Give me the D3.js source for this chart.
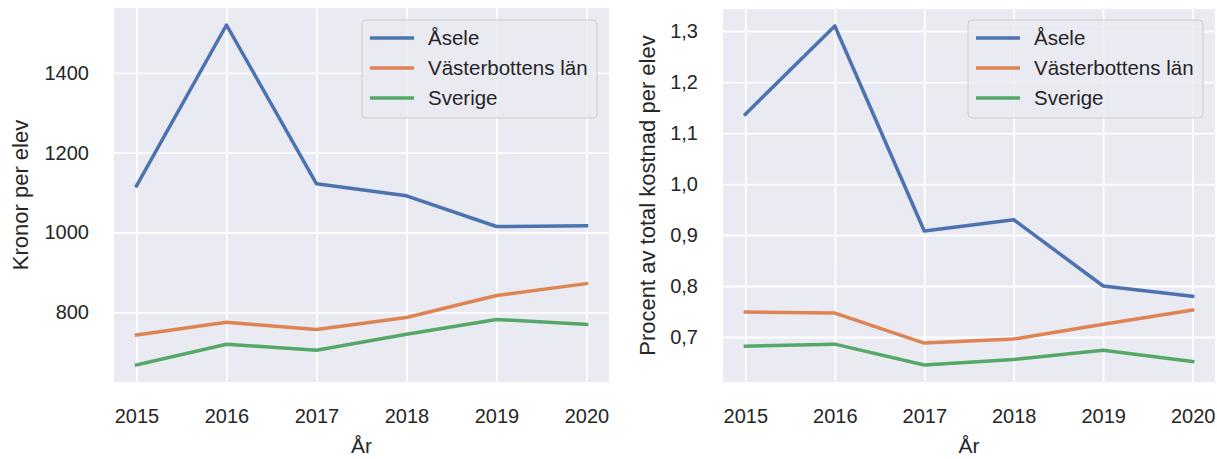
<!DOCTYPE html>
<html>
<head>
<meta charset="utf-8">
<script src="https://cdn.jsdelivr.net/npm/d3@7"></script>
<style>
  body { margin: 0; background: #ffffff; }
  svg text { font-family: "Liberation Sans", Arial, sans-serif; fill: #262626; }
</style>
</head>
<body>
<div id="viz"></div>
<script>
// two panels: kronor per elev, and procent of total kostnad per elev

const years = [2015, 2016, 2017, 2018, 2019, 2020];
const seriesNames = ["Åsele", "Västerbottens län", "Sverige"];
const seriesColors = ["#4c72b0", "#dd8452", "#55a868"];

const kronorAsele = [1117, 1520, 1122, 1092, 1015, 1017];
const kronorVasterbotten = [743, 775, 757, 787, 842, 872];
const kronorSverige = [668, 720, 705, 745, 782, 770];

const procentAsele = [1.137, 1.31, 0.908, 0.93, 0.8, 0.78];
const procentVasterbotten = [0.749, 0.747, 0.688, 0.696, 0.725, 0.753];
const procentSverige = [0.682, 0.686, 0.645, 0.656, 0.674, 0.652];

const kronorTicks = [800, 1000, 1200, 1400];
const procentTicks = [0.7, 0.8, 0.9, 1.0, 1.1, 1.2, 1.3];

const sv = d3.formatLocale({
  decimal: ",",
  thousands: "\u00a0",
  grouping: [3],
  currency: ["", " kr"],
});

const width = 1217;
const height = 459;

const svg = d3
  .select("#viz")
  .append("svg")
  .attr("width", width)
  .attr("height", height);

function drawPanel(opts) {
  const { left, right, top, bottom, series, ticks, tickFormat, yLabel, yLabelX } = opts;

  const g = svg.append("g");

  // matplotlib-like 5% margins on both axes
  const xScale = d3
    .scaleLinear()
    .domain([years[0] - 0.25, years[years.length - 1] + 0.25])
    .range([left, right]);

  const all = series.flat();
  const lo = d3.min(all);
  const hi = d3.max(all);
  const pad = (hi - lo) * 0.05;
  const yScale = d3
    .scaleLinear()
    .domain([lo - pad, hi + pad])
    .range([bottom, top]);

  g.append("rect")
    .attr("x", left)
    .attr("y", top)
    .attr("width", right - left)
    .attr("height", bottom - top)
    .attr("fill", "#eaeaf2");

  // grid + tick labels
  g.append("g")
    .attr("transform", `translate(0,${bottom})`)
    .call(d3.axisBottom(xScale).tickValues(years).tickSize(-(bottom - top)).tickFormat(d3.format("d")).tickPadding(27))
    .call((a) => {
      a.select(".domain").remove();
      a.selectAll(".tick line").attr("stroke", "#ffffff").attr("stroke-width", 1.8);
      a.selectAll(".tick text")
        .style("font-size", "20px")
        .style("font-family", '"Liberation Sans", Arial, sans-serif')
        .attr("fill", "#262626");
    });

  g.append("g")
    .attr("transform", `translate(${left},0)`)
    .call(d3.axisLeft(yScale).tickValues(ticks).tickSize(-(right - left)).tickFormat(tickFormat).tickPadding(25))
    .call((a) => {
      a.select(".domain").remove();
      a.selectAll(".tick line").attr("stroke", "#ffffff").attr("stroke-width", 1.8);
      a.selectAll(".tick text")
        .style("font-size", "20px")
        .style("font-family", '"Liberation Sans", Arial, sans-serif')
        .attr("fill", "#262626");
    });

  const line = d3
    .line()
    .x((d, i) => xScale(years[i]))
    .y((d) => yScale(d));

  series.forEach((vals, i) => {
    g.append("path")
      .datum(vals)
      .attr("d", line)
      .attr("fill", "none")
      .attr("stroke", seriesColors[i])
      .attr("stroke-width", 3.5)
      .attr("stroke-linejoin", "round")
      .attr("stroke-linecap", "square");
  });

  // axis labels
  g.append("text")
    .attr("x", (left + right) / 2)
    .attr("y", 453)
    .attr("text-anchor", "middle")
    .style("font-size", "21px")
    .text("År");

  g.append("text")
    .attr("transform", `translate(${yLabelX},${(top + bottom) / 2}) rotate(-90)`)
    .attr("text-anchor", "middle")
    .style("font-size", "22px")
    .text(yLabel);

  // legend
  const lg = g.append("g").attr("transform", `translate(${right - 247},20)`);
  lg.append("rect")
    .attr("width", 235)
    .attr("height", 98)
    .attr("rx", 4)
    .attr("fill", "#eaeaf2")
    .attr("fill-opacity", 0.8)
    .attr("stroke", "#cccccc")
    .attr("stroke-width", 1);

  seriesNames.forEach((name, i) => {
    const y = 18 + i * 30;
    lg.append("line")
      .attr("x1", 8)
      .attr("x2", 52)
      .attr("y1", y)
      .attr("y2", y)
      .attr("stroke", seriesColors[i])
      .attr("stroke-width", 3.5);
    lg.append("text")
      .attr("x", 66)
      .attr("y", y)
      .attr("dy", "0.35em")
      .style("font-size", "20.5px")
      .text(name);
  });
}

drawPanel({
  left: 114,
  right: 609,
  top: 8,
  bottom: 382,
  series: [kronorAsele, kronorVasterbotten, kronorSverige],
  ticks: kronorTicks,
  tickFormat: d3.format("d"),
  yLabel: "Kronor per elev",
  yLabelX: 28,
});

drawPanel({
  left: 723,
  right: 1215,
  top: 9,
  bottom: 382,
  series: [procentAsele, procentVasterbotten, procentSverige],
  ticks: procentTicks,
  tickFormat: sv.format(".1f"),
  yLabel: "Procent av total kostnad per elev",
  yLabelX: 655,
});
</script>
</body>
</html>
